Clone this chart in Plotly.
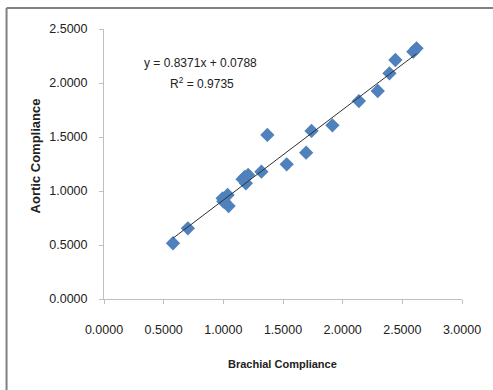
import plotly.graph_objects as go

brachial = [0.578, 0.703, 0.994, 1.008, 1.036, 1.044, 1.000, 1.161, 1.189, 1.208, 1.180,
            1.319, 1.369, 1.531, 1.694, 1.739, 1.914, 2.136, 2.294, 2.392, 2.442, 2.592, 2.619]
aortic = [0.516, 0.654, 0.932, 0.901, 0.963, 0.861, 0.905, 1.108, 1.071, 1.148, 1.130,
          1.179, 1.519, 1.247, 1.355, 1.556, 1.608, 1.833, 1.926, 2.090, 2.213, 2.290, 2.321]

slope = 0.8371
intercept = 0.0788
r2 = 0.9735

x_ticks = [0, 0.5, 1.0, 1.5, 2.0, 2.5, 3.0]
y_ticks = [0, 0.5, 1.0, 1.5, 2.0, 2.5]

FONT = "Liberation Sans, Arial, sans-serif"

xmin, xmax = min(brachial), max(brachial)
fig = go.Figure()
fig.add_trace(go.Scatter(
    x=brachial, y=aortic, mode="markers",
    marker=dict(symbol="diamond", size=11, color="#4F81BD", line=dict(width=0)),
    showlegend=False))
fig.add_trace(go.Scatter(
    x=[xmin, xmax], y=[slope * xmin + intercept, slope * xmax + intercept],
    mode="lines", line=dict(color="#303030", width=1), showlegend=False))

axis_common = dict(showgrid=False, zeroline=False, showline=True, linecolor="#BFBFBF",
                   linewidth=1, ticks="outside", ticklen=4, tickcolor="#BFBFBF",
                   tickfont=dict(family=FONT, size=12.5, color="#222"), tickformat=".4f")
fig.update_xaxes(range=[0, 3], tickvals=x_ticks, ticklabelstandoff=15, **axis_common)
fig.update_yaxes(range=[0, 2.5], tickvals=y_ticks, ticklabelstandoff=9, **axis_common)


def ann(text, px, py, size, angle=0):
    return dict(text=text, xref="paper", yref="paper",
                x=(px - 104) / 360, y=(299 - py) / 270, showarrow=False,
                xanchor="center", yanchor="middle", textangle=angle,
                font=dict(family=FONT, size=size, color="#222"))


fig.update_layout(
    width=493, height=390,
    margin=dict(l=104, r=29, t=29, b=91),
    plot_bgcolor="white", paper_bgcolor="white",
    shapes=[
        dict(type="line", xref="paper", yref="paper", x0=-0.2722, x1=1.2, y0=1.0778, y1=1.0778,
             line=dict(color="#808080", width=2)),
        dict(type="line", xref="paper", yref="paper", x0=-0.2722, x1=-0.2722, y0=-0.4, y1=1.0778,
             line=dict(color="#808080", width=2)),
    ],
    annotations=[
        ann("y = 0.8371x + 0.0788", 201, 63, 12),
        ann("R<sup>2</sup> = %.4f" % r2, 203, 83, 12),
        ann("<b>Brachial Compliance</b>", 283, 364, 11),
        ann("<b>Aortic Compliance</b>", 35, 156, 13, -90),
    ],
)

fig.write_html("out.html", config={"displayModeBar": False},
               post_script="document.body.style.margin='0';document.body.style.overflow='hidden';")
